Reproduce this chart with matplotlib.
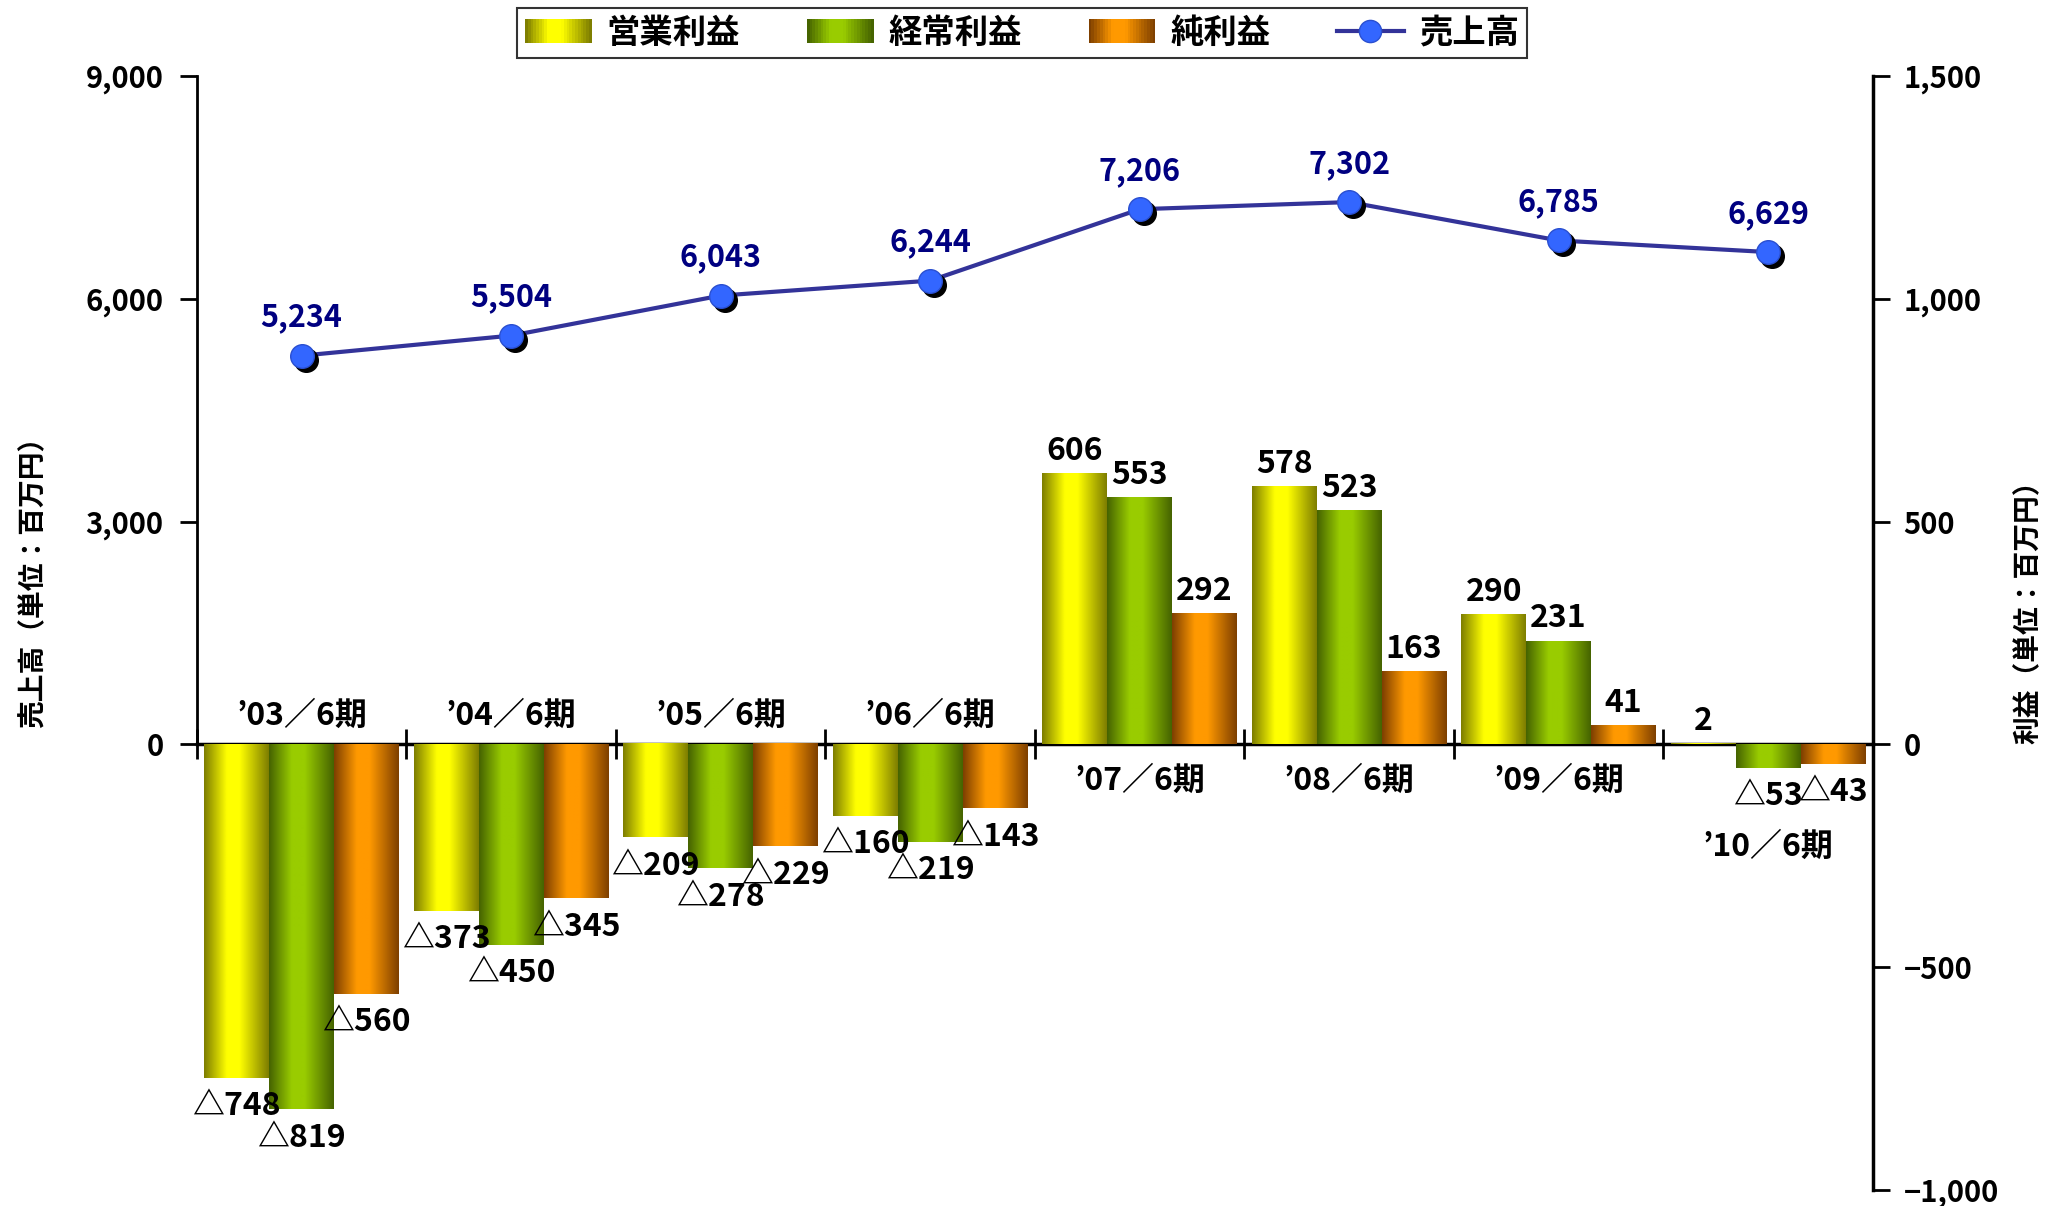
import numpy as np
import matplotlib
matplotlib.use('Agg')
import matplotlib.pyplot as plt
import matplotlib.transforms as mtransforms
from matplotlib.patches import Rectangle
from matplotlib.lines import Line2D
from matplotlib.legend_handler import HandlerBase
from matplotlib.colors import to_rgb
from matplotlib.ticker import FuncFormatter

plt.rcParams['font.family'] = ['Noto Sans CJK JP', 'DejaVu Sans']
plt.rcParams['font.weight'] = 'bold'

# data (百万円)
periods = ['’03／6期', '’04／6期', '’05／6期', '’06／6期',
           '’07／6期', '’08／6期', '’09／6期', '’10／6期']
sales = [5234, 5504, 6043, 6244, 7206, 7302, 6785, 6629]
op_profit = [-748, -373, -209, -160, 606, 578, 290, 2]
ord_profit = [-819, -450, -278, -219, 553, 523, 231, -53]
net_profit = [-560, -345, -229, -143, 292, 163, 41, -43]
profit_names = ['営業利益', '経常利益', '純利益']
sales_name = '売上高'

# gradient colours (edge, middle)
grad_cols = [('#7f7f00', '#ffff00'),
             ('#466400', '#99cc00'),
             ('#7f4000', '#ff9900')]


def grad_colors(c_edge, c_mid, n=64):
    t = np.linspace(0, 1, n)
    w = np.interp(t, [0, 0.35, 0.55, 1], [0, 1, 1, 0])
    e = np.array(to_rgb(c_edge))
    m = np.array(to_rgb(c_mid))
    return e[None, :] * (1 - w[:, None]) + m[None, :] * w[:, None]


class GradHandler(HandlerBase):
    def __init__(self, c_edge, c_mid):
        super().__init__()
        self.cols = grad_colors(c_edge, c_mid, 24)

    def create_artists(self, legend, orig_handle, xdescent, ydescent,
                       width, height, fontsize, trans):
        n = len(self.cols)
        arts = []
        for i, c in enumerate(self.cols):
            r = Rectangle((-xdescent + width * i / n, -ydescent), width / n * 1.05,
                          height, facecolor=c, edgecolor='none', transform=trans)
            arts.append(r)
        return arts


def fmt_profit(v):
    return f'{v}' if v >= 0 else f'△{-v}'


fig = plt.figure(figsize=(20.62, 12.06), dpi=100)
ax = fig.add_axes([0.0955, 0.0133, 0.8128, 0.9237])
ax2 = ax.twinx()

x = np.arange(len(periods))
w = 0.31
for k, vals in enumerate([op_profit, ord_profit, net_profit]):
    ce, cm = grad_cols[k]
    bars = ax2.bar(x + (k - 1) * w, vals, w, color=cm, zorder=2)
    g = grad_colors(ce, cm)[None, :, :]
    for b in bars:
        x0, y0 = b.get_x(), b.get_y()
        ax2.imshow(g, extent=(x0, x0 + b.get_width(), y0, y0 + b.get_height()),
                   aspect='auto', zorder=3, interpolation='bilinear')
    for xi, v in zip(x + (k - 1) * w, vals):
        if v >= 0:
            ax2.annotate(fmt_profit(v), (xi, v), xytext=(0, 5), textcoords='offset points',
                         ha='center', va='bottom', fontsize=23, zorder=7)
        else:
            ax2.annotate(fmt_profit(v), (xi, v), xytext=(0, -9), textcoords='offset points',
                         ha='center', va='top', fontsize=23, zorder=7)

# category labels next to zero line
for i, lab in enumerate(periods):
    vals = [op_profit[i], ord_profit[i], net_profit[i]]
    if max(vals) <= 0:
        y = 65
    elif min(vals) >= 0:
        y = -83
    else:
        y = -230
    ax2.text(i, y, lab, ha='center', va='center', fontsize=23, zorder=7)

# sales line
ax.plot(x, sales, color='#333399', lw=3, zorder=2)
shadow = mtransforms.offset_copy(ax.transData, fig=fig, x=4, y=-4, units='dots')
ax.plot(x, sales, 'o', color='black', markersize=17, transform=shadow, zorder=3)
ax.plot(x, sales, 'o', mfc='#3366ff', mec='#2a4fd0', mew=1, markersize=17, zorder=4)
for xi, v in zip(x, sales):
    ax.annotate(f'{v:,}', (xi, v), xytext=(0, 16), textcoords='offset points',
                ha='center', va='bottom', fontsize=22, color='#000080')

# axes
ax.set_xlim(-0.5, len(periods) - 0.5)
ax.set_ylim(-6000, 9000)
ax2.set_ylim(-1000, 1500)
ax.set_yticks([0, 3000, 6000, 9000])
ax2.set_yticks([-1000, -500, 0, 500, 1000, 1500])
ax.yaxis.set_major_formatter(FuncFormatter(lambda v, p: f'{v:,.0f}'))
ax2.yaxis.set_major_formatter(FuncFormatter(lambda v, p: f'{v:,.0f}'.replace('-', '−')))
ax.set_xticks(np.arange(-0.5, len(periods), 1))
ax.set_xticklabels([])
ax.tick_params(axis='x', direction='inout', length=22, width=2)
ax.tick_params(axis='y', length=12, width=2, pad=12, labelsize=21)
ax2.tick_params(axis='y', length=12, width=2, pad=10, labelsize=21)

for s in ['top', 'right']:
    ax.spines[s].set_visible(False)
for s in ['top', 'left', 'bottom']:
    ax2.spines[s].set_visible(False)
ax.spines['bottom'].set_position(('data', 0))
ax.spines['left'].set_bounds(0, 9000)
ax.spines['left'].set_linewidth(2)
ax.spines['bottom'].set_linewidth(2.5)
ax2.spines['right'].set_linewidth(2.5)
ax.spines['bottom'].set_zorder(6)

fig.text(0.016, 0.523, '売上高（単位：百万円）', rotation=90, ha='center', va='center', fontsize=20)
fig.text(0.984, 0.498, '利益（単位：百万円）', rotation=90, ha='center', va='center', fontsize=20)

# legend
dummies = [Rectangle((0, 0), 1, 1) for _ in profit_names]
line_h = Line2D([], [], color='#333399', lw=3, marker='o', markersize=16,
                mfc='#3366ff', mec='#2a4fd0')
hmap = {d: GradHandler(*grad_cols[k]) for k, d in enumerate(dummies)}
leg = fig.legend(dummies + [line_h], profit_names + [sales_name], handler_map=hmap,
                 loc='center', bbox_to_anchor=(0.4956, 0.9726), ncol=4, frameon=True,
                 fancybox=False, edgecolor='black', prop={'weight': 'bold', 'size': 24},
                 handlelength=2.0, handleheight=0.7, handletextpad=0.45,
                 columnspacing=2.0, borderpad=0.25, borderaxespad=0)
leg.get_frame().set_linewidth(1.5)

fig.savefig('out.png', dpi=100)
